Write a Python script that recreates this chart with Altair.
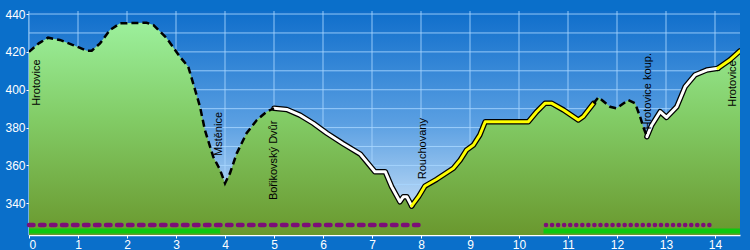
import altair as alt
import pandas as pd

# --- profile data (km, elevation m) ---
km = [0, 0.2, 0.39, 0.63, 0.9, 1.18, 1.28, 1.45, 1.65, 1.86, 2.4, 2.54, 2.81, 3.08, 3.25,
      3.35, 3.49, 3.59, 3.76, 3.9, 4.0, 4.1, 4.24, 4.44, 4.65, 4.85, 5.0, 5.26, 5.53, 5.8,
      6.08, 6.41, 6.76, 6.89, 7.06, 7.27, 7.4, 7.57, 7.64, 7.71, 7.81, 7.95, 8.08, 8.32,
      8.66, 8.8, 8.93, 9.07, 9.2, 9.31, 10.19, 10.36, 10.53, 10.67, 10.91, 11.21, 11.31,
      11.52, 11.62, 11.86, 11.99, 12.23, 12.37, 12.47, 12.54, 12.61, 12.71, 12.88, 13.01,
      13.22, 13.39, 13.59, 13.83, 14.06, 14.3, 14.51]
elev = [420, 424.5, 427.5, 426.3, 423.6, 420.6, 420.6, 424.5, 431.5, 435.1, 435.4, 434.2,
        427.2, 417.4, 412.2, 403.4, 391, 378.7, 364.6, 357.6, 350.6, 355.8, 366.4, 377, 384,
        388.4, 390.2, 389.6, 386.6, 382.3, 377, 371.5, 366, 362, 356.7, 356.7, 348.8, 340.8,
        343.5, 343.5, 338.6, 343.5, 349.1, 352.7, 358.5, 362.9, 368.2, 370.8, 376.1, 383.1,
        383.1, 388.4, 392.8, 392.8, 389.3, 384, 385.8, 392.8, 396, 391, 390.2, 394.6, 392.8,
        385.8, 380.1, 375.2, 381.4, 388.4, 385.4, 391, 401.6, 407.8, 410.4, 411.3, 415.7, 420.5]

# route segments (surface type)
seg_breaks = [0, 5.0, 7.81, 11.52, 12.61, 14.06, 14.51]
seg_styles = ["dash", "white", "yellow", "dash", "white", "yellow"]

# places
place_names = ["Hrotovice", "Mstěnice", "Bořikovský Dvůr", "Rouchovany", "Hrotovice koup.", "Hrotovice"]
place_km = [0.17, 3.88, 4.99, 8.05, 12.63, 14.36]
place_elev = [391.5, 365, 341.7, 352.7, 379, 391]

# bottom bands
purple_dash_start = [0.0]
purple_dash_end = [8.0]
purple_dot_start = [10.55]
purple_dot_end = [14.0]
green_start = [0.0, 10.5]
green_end = [3.9, 14.51]

x_ticks = list(range(0, 15))
y_ticks = list(range(340, 441, 10))

X_DOM = [0, 14.51]
Y_DOM = [323.25, 441.6]

prof = pd.DataFrame({"km": km, "elev": elev})
rows = []
for i, st in enumerate(seg_styles):
    a, b = seg_breaks[i], seg_breaks[i + 1]
    for k, e in zip(km, elev):
        if a - 1e-9 <= k <= b + 1e-9:
            rows.append({"km": k, "elev": e, "seg": i, "style": st})
segs = pd.DataFrame(rows)
places = pd.DataFrame({"name": place_names, "km": place_km, "elev": place_elev})

xs = alt.Scale(domain=X_DOM, nice=False, zero=False)
ys = alt.Scale(domain=Y_DOM, nice=False, zero=False)

xax = alt.Axis(values=x_ticks, format="d", grid=False,
               domainColor="white", domainWidth=1.5, tickColor="white", tickSize=3,
               labelColor="white", labelFont="Liberation Sans", labelFontSize=12,
               labelPadding=1, title=None)
yax = alt.Axis(values=y_ticks, grid=False,
               domainColor="white", domainWidth=1.5, tickColor="white", tickSize=3,
               labelColor="white", labelFont="Liberation Sans", labelFontSize=12,
               labelPadding=1, title=None)

sky_grad = alt.Gradient(
    gradient="linear", x1=0, x2=0, y1=0, y2=1,
    stops=[alt.GradientStop(color="#0f6ecb", offset=0),
           alt.GradientStop(color="#5a9fe2", offset=0.5),
           alt.GradientStop(color="#dcedfc", offset=1)])

ground_grad = alt.Gradient(
    gradient="linear", x1=0, x2=0, y1=0, y2=1,
    stops=[alt.GradientStop(color="#9cf09c", offset=0),
           alt.GradientStop(color="#82cc66", offset=0.45),
           alt.GradientStop(color="#6a982e", offset=1)])

sky = alt.Chart(pd.DataFrame({"x0": [X_DOM[0]], "x1": [X_DOM[1]], "y0": [Y_DOM[0]], "y1": [Y_DOM[1]]})).mark_rect(
    fill=sky_grad
).encode(
    x=alt.X("x0:Q", scale=xs, axis=xax), x2="x1:Q",
    y=alt.Y("y0:Q", scale=ys, axis=yax), y2="y1:Q",
)

grid_v = alt.Chart(pd.DataFrame({"t": x_ticks})).mark_rule(
    color="#a8d6ff", strokeWidth=1, opacity=0.85
).encode(x=alt.X("t:Q", scale=xs), y=alt.datum(Y_DOM[0]), y2=alt.datum(Y_DOM[1]))

grid_h = alt.Chart(pd.DataFrame({"t": y_ticks})).mark_rule(
    color="#a8d6ff", strokeWidth=1, opacity=0.85
).encode(y=alt.Y("t:Q", scale=ys), x=alt.datum(X_DOM[0]), x2=alt.datum(X_DOM[1]))

ground = alt.Chart(prof).mark_area(clip=True, fill=ground_grad).encode(
    x=alt.X("km:Q", scale=xs),
    y=alt.Y("elev:Q", scale=ys),
    y2=alt.datum(Y_DOM[0]),
)

band_purple_dash = alt.Chart(pd.DataFrame({"a": purple_dash_start, "b": purple_dash_end, "y": [328.5]})).mark_rule(
    color="#7c0e78", strokeWidth=4.5, strokeDash=[4.5, 6.5], strokeCap="round"
).encode(x=alt.X("a:Q", scale=xs), x2="b:Q", y=alt.Y("y:Q", scale=ys))

band_purple_dot = alt.Chart(pd.DataFrame({"a": purple_dot_start, "b": purple_dot_end, "y": [328.5]})).mark_rule(
    color="#7c0e78", strokeWidth=4.5, strokeDash=[0.1, 5.95], strokeCap="round"
).encode(x=alt.X("a:Q", scale=xs), x2="b:Q", y=alt.Y("y:Q", scale=ys))

band_green = alt.Chart(pd.DataFrame({"a": green_start, "b": green_end, "y": [325.3, 325.3]})).mark_rule(
    color="#0ec80e", strokeWidth=5
).encode(x=alt.X("a:Q", scale=xs), x2="b:Q", y=alt.Y("y:Q", scale=ys))

base = alt.Chart(segs).encode(
    x=alt.X("km:Q", scale=xs), y=alt.Y("elev:Q", scale=ys), detail="seg:N"
)
outline = base.transform_filter("datum.style != 'dash'").mark_line(
    color="black", strokeWidth=5.5, strokeJoin="round", strokeCap="round", clip=True)
white = base.transform_filter("datum.style == 'white'").mark_line(
    color="white", strokeWidth=3, strokeJoin="round", strokeCap="round", clip=True)
yellow = base.transform_filter("datum.style == 'yellow'").mark_line(
    color="#ffff00", strokeWidth=3, strokeJoin="round", strokeCap="round", clip=True)
dashed = base.transform_filter("datum.style == 'dash'").mark_line(
    color="black", strokeWidth=2.5, strokeDash=[7, 4], clip=True)

labels = alt.Chart(places).mark_text(
    angle=270, align="left", baseline="middle", font="Liberation Sans", fontSize=11, color="black"
).encode(x=alt.X("km:Q", scale=xs), y=alt.Y("elev:Q", scale=ys), text="name:N")

chart = alt.layer(
    sky, grid_v, grid_h, ground, band_green, band_purple_dash, band_purple_dot,
    outline, white, yellow, dashed, labels
).properties(
    width=711, height=224, background="#0a6fca", autosize="none",
    padding={"left": 29, "top": 11, "right": 10, "bottom": 15},
).configure_view(stroke=None)

chart.save("out.html", embed_options={"renderer": "svg", "actions": False})
